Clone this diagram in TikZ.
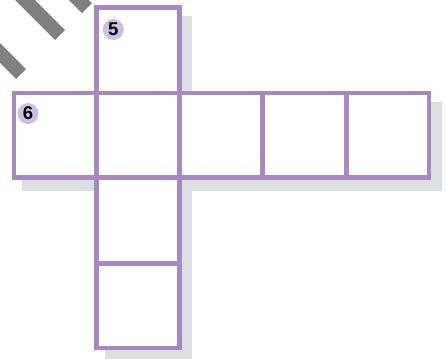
\documentclass[tikz,border=0pt]{standalone}
\usepackage{fontspec}
\setmainfont{Liberation Sans}
\definecolor{framec}{RGB}{165,137,192}
\definecolor{circc}{RGB}{206,191,225}
\definecolor{shadowc}{RGB}{221,222,224}
\definecolor{stripec}{RGB}{128,128,128}
\begin{document}
\begin{tikzpicture}[x=1pt,y=-1pt,
  cellline/.style={draw=framec,line width=4.7pt,line join=miter},
  shadowfill/.style={fill=shadowc,draw=shadowc,line width=4.7pt},
  stripe/.style={draw=stripec,line width=14pt,line cap=butt},
  numcirc/.style={circle,fill=circc,inner sep=0pt,minimum size=21pt,
    font=\fontsize{18.5}{18.5}\selectfont\bfseries}]
\useasboundingbox (0,0) rectangle (445,359);
\clip (0,0) rectangle (445,359);
% grid coordinates
\def\cA{14}\def\cB{96.5}\def\cC{179.5}\def\cD{262.8}\def\cE{346.2}\def\cF{429}
\def\rA{7.7}\def\rB{93}\def\rC{177.7}\def\rD{263.3}\def\rE{348}
% stripes
\coordinate (sa1) at (-20,-45); \coordinate (sa2) at (60,35);
\coordinate (sb1) at (-40,13);  \coordinate (sb2) at (21,74);
\coordinate (sc1) at (30,-48.7); \coordinate (sc2) at (86.85,8.15);
\draw[stripe] (sa1) -- (sa2);
\draw[stripe] (sb1) -- (sb2);
\draw[stripe] (sc1) -- (sc2);
% shadow
\begin{scope}[shift={(10.5,11)}]
\filldraw[shadowfill] (\cB,\rA) -- (\cC,\rA) -- (\cC,\rB) -- (\cF,\rB) -- (\cF,\rC)
  -- (\cC,\rC) -- (\cC,\rE) -- (\cB,\rE) -- (\cB,\rC) -- (\cA,\rC) -- (\cA,\rB)
  -- (\cB,\rB) -- cycle;
\end{scope}
% cells
\fill[white] (\cB,\rA) -- (\cC,\rA) -- (\cC,\rB) -- (\cF,\rB) -- (\cF,\rC)
  -- (\cC,\rC) -- (\cC,\rE) -- (\cB,\rE) -- (\cB,\rC) -- (\cA,\rC) -- (\cA,\rB)
  -- (\cB,\rB) -- cycle;
\draw[cellline] (\cB,\rA) rectangle (\cC,\rB);
\draw[cellline] (\cA,\rB) rectangle (\cF,\rC);
\draw[cellline] (\cB,\rC) rectangle (\cC,\rE);
\draw[cellline] (\cB,\rB) -- (\cB,\rC);
\draw[cellline] (\cC,\rB) -- (\cC,\rC);
\draw[cellline] (\cD,\rB) -- (\cD,\rC);
\draw[cellline] (\cE,\rB) -- (\cE,\rC);
\draw[cellline] (\cB,\rD) -- (\cC,\rD);
% numbers
\node[numcirc] (n5) at (113.3,29.5) {5};
\node[numcirc] (n6) at (28,113.5) {6};
\end{tikzpicture}
\end{document}
